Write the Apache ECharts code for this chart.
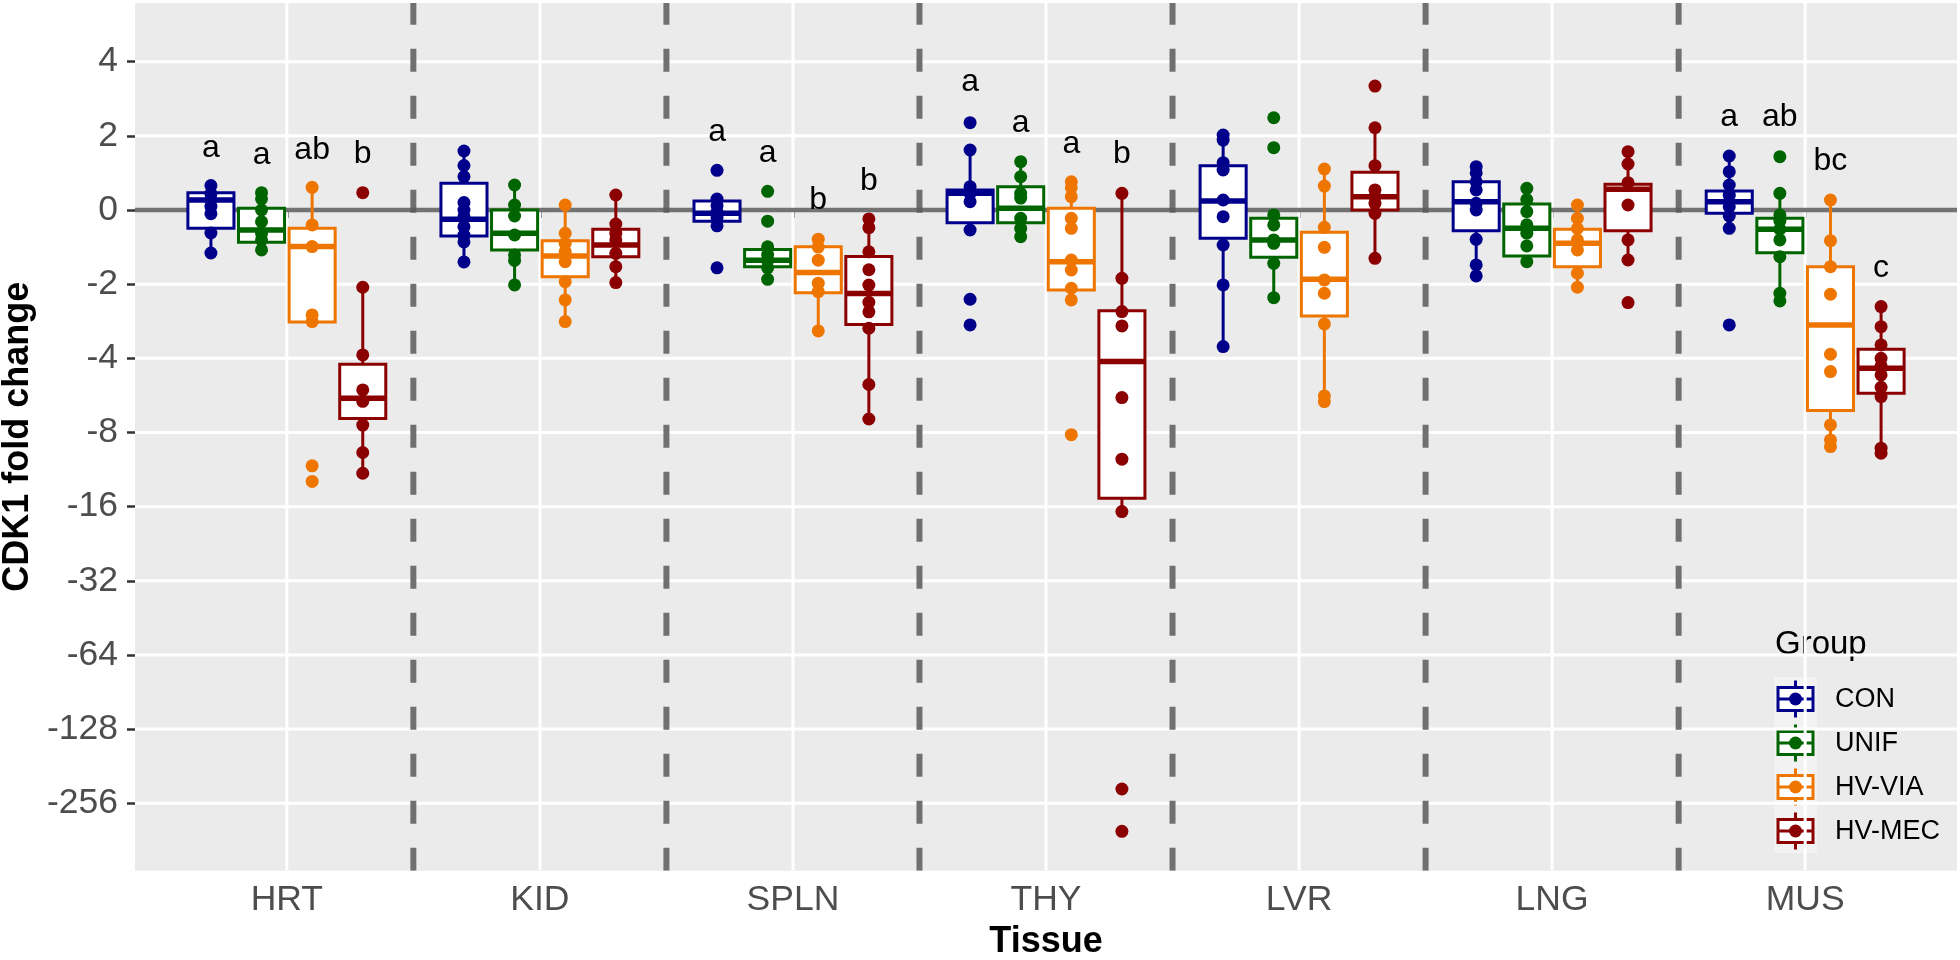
<!DOCTYPE html>
<html><head><meta charset="utf-8">
<script src="https://cdn.jsdelivr.net/npm/echarts@6/dist/echarts.min.js"></script>
<style>html,body{margin:0;padding:0;background:#fff}#chart{width:1960px;height:960px}</style>
</head><body><div id="chart"></div>
<script>
// ---------- DATA ----------
const tissues = ['HRT', 'KID', 'SPLN', 'THY', 'LVR', 'LNG', 'MUS'];
const groups = ['CON', 'UNIF', 'HV-VIA', 'HV-MEC'];
const groupColors = ['#00008B', '#006400', '#EE7600', '#8B0000'];
// y axis is in plotted units (fold-change scale): position -> tick label
const yTickValues = [2, 1, 0, -1, -2, -3, -4, -5, -6, -7, -8];
const yTickLabels = ['4', '2', '0', '-2', '-4', '-8', '-16', '-32', '-64', '-128', '-256'];

// box summaries per tissue: [lower whisker, Q1, median, Q3, upper whisker] (plotted units)
const boxCON = [
  [-0.58, -0.247, 0.135, 0.233, 0.33],
  [-0.70, -0.35, -0.125, 0.36, 0.795],
  [-0.22, -0.151, -0.043, 0.122, 0.15],
  [-0.27, -0.171, 0.225, 0.27, 0.809],
  [-1.842, -0.382, 0.121, 0.597, 1.011],
  [-0.889, -0.279, 0.112, 0.382, 0.584],
  [-0.247, -0.045, 0.112, 0.256, 0.728]
];
const boxUNIF = [
  [-0.539, -0.435, -0.27, 0.023, 0.233],
  [-1.01, -0.539, -0.314, 0.0, 0.337],
  [-0.935, -0.765, -0.677, -0.533, -0.497],
  [-0.36, -0.171, 0.023, 0.314, 0.651],
  [-1.182, -0.638, -0.404, -0.112, -0.067],
  [-0.697, -0.62, -0.247, 0.081, 0.292],
  [-1.226, -0.575, -0.26, -0.112, 0.225]
];
const boxVIA = [
  [-1.51, -1.51, -0.494, -0.247, 0.306],
  [-1.505, -0.899, -0.62, -0.414, 0.067],
  [-1.631, -1.115, -0.842, -0.497, -0.393],
  [-1.213, -1.078, -0.697, 0.023, 0.381],
  [-2.583, -1.429, -0.934, -0.301, 0.553],
  [-1.042, -0.764, -0.449, -0.26, 0.067],
  [-3.19, -2.705, -1.55, -0.764, 0.135]
];
const boxMEC = [
  [-3.55, -2.81, -2.54, -2.08, -1.042],
  [-0.979, -0.629, -0.472, -0.26, 0.202],
  [-2.818, -1.543, -1.126, -0.626, -0.12],
  [-4.066, -3.886, -2.044, -1.357, 0.225],
  [-0.652, 0.0, 0.18, 0.508, 1.109],
  [-0.674, -0.279, 0.279, 0.346, 0.786],
  [-3.28, -2.47, -2.133, -1.877, -1.303]
];

// individual observations per tissue (plotted units)
const pointsCON = [
  [0.33, 0.22, 0.14, 0.05, -0.05, -0.31, -0.58],
  [0.795, 0.6, 0.45, 0.1, 0.0, -0.09, -0.225, -0.34, -0.43, -0.70],
  [0.535, 0.148, 0.06, -0.03, -0.1, -0.213, -0.78],
  [1.177, 0.809, 0.314, 0.225, 0.112, -0.27, -1.204, -1.55],
  [1.011, 0.943, 0.638, 0.539, 0.135, -0.09, -0.472, -1.011, -1.842],
  [0.584, 0.5, 0.38, 0.27, 0.09, 0.0, -0.395, -0.741, -0.889],
  [0.728, 0.516, 0.337, 0.2, 0.045, -0.081, -0.247, -1.55]
];
const pointsUNIF = [
  [0.233, 0.15, 0.0, -0.157, -0.314, -0.404, -0.539],
  [0.337, 0.067, -0.081, -0.337, -0.606, -0.68, -1.01],
  [0.252, -0.151, -0.497, -0.6, -0.68, -0.78, -0.935],
  [0.651, 0.449, 0.225, 0.16, -0.112, -0.247, -0.36],
  [1.244, 0.84, -0.067, -0.202, -0.404, -0.45, -0.719, -1.182],
  [0.292, 0.14, -0.022, -0.2, -0.314, -0.485, -0.697],
  [0.719, 0.225, -0.067, -0.15, -0.26, -0.404, -0.629, -1.123, -1.226]
];
const pointsVIA = [
  [0.306, -0.202, -0.494, -1.415, -1.505, -3.45, -3.66],
  [0.067, -0.314, -0.45, -0.562, -0.697, -0.966, -1.213, -1.505],
  [-0.393, -0.5, -0.677, -0.987, -1.1, -1.631],
  [0.381, 0.3, 0.18, -0.112, -0.247, -0.674, -0.809, -1.055, -1.213, -3.03],
  [0.553, 0.323, -0.234, -0.503, -0.943, -1.123, -1.536, -2.507, -2.583],
  [0.067, -0.112, -0.25, -0.404, -0.539, -0.853, -1.042],
  [0.135, -0.414, -0.764, -1.136, -1.945, -2.179, -2.898, -3.1, -3.19]
];
const pointsMEC = [
  [0.233, -1.042, -1.954, -2.426, -2.58, -2.9, -3.27, -3.55],
  [0.202, -0.189, -0.314, -0.404, -0.584, -0.764, -0.979],
  [-0.12, -0.239, -0.564, -0.806, -1.012, -1.244, -1.373, -1.595, -2.353, -2.818],
  [0.225, -0.921, -1.37, -1.563, -2.53, -3.36, -4.066, -7.807, -8.378],
  [1.671, 1.109, 0.597, 0.27, 0.18, 0.09, -0.045, -0.652],
  [0.786, 0.62, 0.368, 0.067, -0.404, -0.674, -1.249],
  [-1.303, -1.573, -1.819, -1.999, -2.1, -2.224, -2.39, -2.516, -3.212, -3.28]
];

// significance letters per tissue (null = none), and their baseline heights
const sigLetters = [['a', 'a', 'ab', 'b'], null, ['a', 'a', 'b', 'b'], ['a', 'a', 'a', 'b'], null, null, ['a', 'ab', 'bc', 'c']];
const sigLetterY = [[0.72, 0.63, 0.70, 0.65], null, [0.948, 0.654, 0.019, 0.278], [1.609, 1.069, 0.773, 0.638], null, null, [1.137, 1.137, 0.549, -0.899]];

// ---------- STYLE / LAYOUT ----------
const FONT = "'Liberation Sans', Arial, sans-serif";
const dodge = [-0.3, -0.1, 0.1, 0.3];
const BOX_W = 0.182;
const boxSets = [boxCON, boxUNIF, boxVIA, boxMEC];
const pointSets = [pointsCON, pointsUNIF, pointsVIA, pointsMEC];
const xCenters = tissues.map((_, i) => i + 1);

function hLineSeries(name, values, style, z) {
  return {
    type: 'custom', name, z, silent: true, clip: true,
    data: values.map(v => [1, v]),
    renderItem(params, api) {
      const cs = params.coordSys;
      const y = api.coord([1, api.value(1)])[1];
      return { type: 'line', shape: { x1: cs.x, y1: y, x2: cs.x + cs.width, y2: y }, style };
    }
  };
}
function vLineSeries(name, values, style, z) {
  return {
    type: 'custom', name, z, silent: true, clip: true,
    data: values.map(v => [v, 0]),
    renderItem(params, api) {
      const cs = params.coordSys;
      const x = api.coord([api.value(0), 0])[0];
      return { type: 'line', shape: { x1: x, y1: cs.y + cs.height, x2: x, y2: cs.y }, style };
    }
  };
}

const series = [];
series.push(hLineSeries('hgrid', yTickValues, { stroke: '#FFFFFF', lineWidth: 3 }, 1));
series.push(vLineSeries('vgrid', xCenters, { stroke: '#FFFFFF', lineWidth: 3 }, 1));
series.push(vLineSeries('dividers', xCenters.slice(0, -1).map(v => v + 0.5),
  { stroke: '#707070', lineWidth: 6, lineDash: [23, 24] }, 1));
series.push(hLineSeries('zero', [0], { stroke: 'rgba(90,90,90,0.85)', lineWidth: 4.5 }, 1));

groups.forEach((g, gi) => {
  const color = groupColors[gi];
  series.push({
    type: 'custom', name: g + ' box', z: 2, silent: true,
    data: boxSets[gi].map((b, i) => [i + 1 + dodge[gi], ...b]),
    renderItem(params, api) {
      const x = api.value(0);
      const lo = api.coord([x, api.value(1)]);
      const q1 = api.coord([x, api.value(2)]);
      const md = api.coord([x, api.value(3)]);
      const q3 = api.coord([x, api.value(4)]);
      const hi = api.coord([x, api.value(5)]);
      const w = api.size([BOX_W, 0])[0];
      const ls = { stroke: color, lineWidth: 3 };
      return {
        type: 'group', children: [
          { type: 'line', shape: { x1: lo[0], y1: lo[1], x2: q1[0], y2: q1[1] }, style: ls },
          { type: 'line', shape: { x1: q3[0], y1: q3[1], x2: hi[0], y2: hi[1] }, style: ls },
          { type: 'rect', shape: { x: q3[0] - w / 2, y: q3[1], width: w, height: q1[1] - q3[1] },
            style: { fill: '#FFFFFF', stroke: color, lineWidth: 3 } },
          { type: 'line', shape: { x1: md[0] - w / 2, y1: md[1], x2: md[0] + w / 2, y2: md[1] },
            style: { stroke: color, lineWidth: 5.5 } }
        ]
      };
    }
  });
});
groups.forEach((g, gi) => {
  series.push({
    type: 'scatter', name: g, z: 3, silent: true,
    symbol: 'circle', symbolSize: 13,
    itemStyle: { color: groupColors[gi], opacity: 1 },
    data: pointSets[gi].flatMap((arr, i) => arr.map(v => [i + 1 + dodge[gi], v]))
  });
});
const letterItems = [];
sigLetters.forEach((row, ti) => {
  if (!row) return;
  row.forEach((txt, gi) => letterItems.push({ x: ti + 1 + dodge[gi], y: sigLetterY[ti][gi], text: txt }));
});
series.push({
  type: 'custom', name: 'letters', z: 4, silent: true,
  data: letterItems.map(d => [d.x, d.y]),
  renderItem(params, api) {
    const p = api.coord([api.value(0), api.value(1)]);
    return {
      type: 'text', x: p[0], y: p[1] - 8,
      style: { text: letterItems[params.dataIndex].text, fill: '#000000', font: '32px ' + FONT,
        align: 'center', verticalAlign: 'middle' }
    };
  }
});

// legend drawn with graphic elements
const legendEls = [{
  type: 'text', x: 1775, y: 645,
  style: { text: 'Group', fill: '#000000', font: '33px ' + FONT, align: 'left', verticalAlign: 'middle' }
}, {
  type: 'rect', shape: { x: 1774, y: 677, width: 43, height: 176 }, style: { fill: '#F2F2F2' }
}];
groups.forEach((g, gi) => {
  const c = groupColors[gi];
  const cx = 1795.5, cy = 699 + 44 * gi;
  legendEls.push(
    { type: 'line', shape: { x1: cx, y1: cy - 18.5, x2: cx, y2: cy + 18.5 }, style: { stroke: c, lineWidth: 3 } },
    { type: 'rect', shape: { x: cx - 17.5, y: cy - 11.5, width: 35, height: 23 }, style: { fill: '#FFFFFF', stroke: c, lineWidth: 3 } },
    { type: 'line', shape: { x1: cx - 17.5, y1: cy, x2: cx + 17.5, y2: cy }, style: { stroke: c, lineWidth: 3 } },
    { type: 'circle', shape: { cx: cx, cy: cy, r: 6.5 }, style: { fill: c } },
    { type: 'text', x: 1835, y: cy + 1, style: { text: g, fill: '#000000', font: '27px ' + FONT, align: 'left', verticalAlign: 'middle' } }
  );
});

const chart = echarts.init(document.getElementById('chart'), null, { renderer: 'canvas' });
chart.setOption({
  animation: false,
  backgroundColor: '#FFFFFF',
  textStyle: { fontFamily: FONT },
  grid: {
    left: 135, right: 3, top: 3, bottom: 89.3, containLabel: false, outerBoundsMode: 'none',
    show: true, backgroundColor: '#EBEBEB', borderWidth: 0
  },
  xAxis: {
    type: 'value', min: 0.4, max: 7.6,
    axisLine: { show: false }, splitLine: { show: false },
    axisTick: { show: true, length: 8, lineStyle: { color: '#333333', width: 2.5 }, customValues: xCenters },
    axisLabel: { customValues: xCenters, margin: 12, color: '#4D4D4D', fontSize: 35.5, fontFamily: FONT,
      formatter: v => tissues[Math.round(v) - 1] },
    name: 'Tissue', nameLocation: 'middle', nameGap: 71,
    nameTextStyle: { color: '#000000', fontSize: 36, fontWeight: 'bold', fontFamily: FONT, verticalAlign: 'middle' }
  },
  yAxis: {
    type: 'value', min: -8.909, max: 2.791,
    axisLine: { show: false }, splitLine: { show: false },
    axisTick: { show: true, length: 8, lineStyle: { color: '#333333', width: 2.5 }, customValues: yTickValues },
    axisLabel: { customValues: yTickValues, margin: 17, color: '#4D4D4D', fontSize: 35.5, fontFamily: FONT,
      formatter: v => yTickLabels[yTickValues.indexOf(Math.round(v))] },
    name: 'CDK1 fold change', nameLocation: 'middle', nameGap: 116, nameRotate: 90,
    nameTextStyle: { color: '#000000', fontSize: 36, fontWeight: 'bold', fontFamily: FONT, verticalAlign: 'middle' }
  },
  graphic: { elements: [{ type: 'group', z: 100, children: legendEls }] },
  series
});
</script></body></html>
